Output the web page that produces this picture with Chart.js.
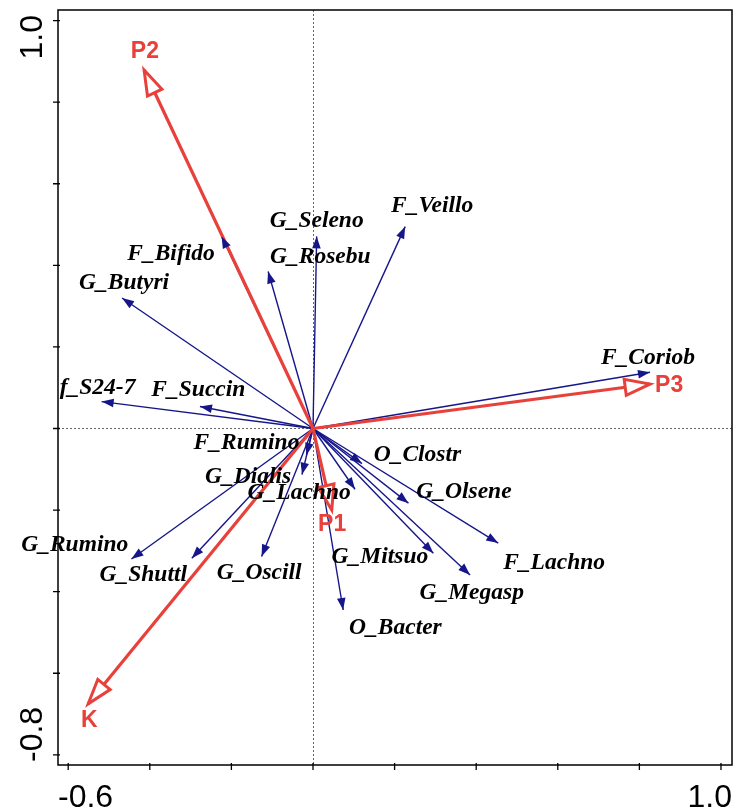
<!DOCTYPE html>
<html>
<head>
<meta charset="utf-8">
<script src="https://cdn.jsdelivr.net/npm/chart.js@4.4.1/dist/chart.umd.min.js"></script>
<style>
  html, body { margin: 0; padding: 0; background: #fff; }
  #wrap { width: 736px; height: 812px; position: relative; }
</style>
</head>
<body>
<div id="wrap"><canvas id="rdaChart"></canvas></div>
<script>
// RDA biplot - species arrows (blue) and environment arrows (red)

// species arrows: tip coordinates
var spNames = ["F_Veillo", "G_Seleno", "G_Rosebu", "F_Bifido", "G_Butyri", "f_S24-7", "F_Succin",
    "F_Coriob", "F_Rumino", "G_Dialis", "G_Rumino", "G_Shuttl", "G_Oscill", "O_Clostr",
    "G_Lachno", "G_Olsene", "G_Mitsuo", "G_Megasp", "F_Lachno", "O_Bacter"];
var spX = [0.226, 0.009, -0.110, -0.224, -0.468, -0.518, -0.277,
    0.826, -0.016, -0.027, -0.445, -0.297, -0.126, 0.120,
    0.103, 0.234, 0.295, 0.385, 0.454, 0.074];
var spY = [0.495, 0.471, 0.385, 0.471, 0.320, 0.066, 0.054,
    0.138, -0.065, -0.113, -0.320, -0.318, -0.314, -0.086,
    -0.149, -0.183, -0.306, -0.359, -0.281, -0.445];
// where the species names sit (label centre, axis units)
var spLabX = [0.292, 0.009, 0.018, -0.348, -0.463, -0.528, -0.281,
    0.821, -0.163, -0.159, -0.584, -0.416, -0.132, 0.256,
    -0.034, 0.370, 0.164, 0.389, 0.591, 0.202];
var spLabY = [0.546, 0.509, 0.421, 0.428, 0.357, 0.100, 0.095,
    0.173, -0.035, -0.119, -0.285, -0.359, -0.354, -0.065,
    -0.158, -0.155, -0.315, -0.403, -0.330, -0.489];

// environmental arrows
var envNames = ["P1", "P2", "P3", "K"];
var envX = [0.046, -0.414, 0.826, -0.551];
var envY = [-0.200, 0.879, 0.109, -0.675];
var envLabX = [0.047, -0.412, 0.873, -0.548];
var envLabY = [-0.236, 0.923, 0.104, -0.716];

// axis ticks
var xTicks = [-0.6, -0.4, -0.2, 0, 0.2, 0.4, 0.6, 0.8, 1.0];
var xTickLabels = ["-0.6", "", "", "", "", "", "", "", "1.0"];
var yTicks = [-0.8, -0.6, -0.4, -0.2, 0, 0.2, 0.4, 0.6, 0.8, 1.0];
var yTickLabels = ["-0.8", "", "", "", "", "", "", "", "", "1.0"];

var blue = "#16168a";
var red = "#e8403a";

var datasets = [];
// red first so they are drawn on top
for (var i = 0; i < envNames.length; i++) {
    datasets.push({
        label: envNames[i],
        data: [{x: 0, y: 0}, {x: envX[i], y: envY[i]}],
        borderColor: red,
        borderWidth: 3.2,
        showLine: true,
        pointRadius: 0
    });
}
for (var i = 0; i < spNames.length; i++) {
    datasets.push({
        label: spNames[i],
        data: [{x: 0, y: 0}, {x: spX[i], y: spY[i]}],
        borderColor: blue,
        borderWidth: 1.4,
        showLine: true,
        pointRadius: 0
    });
}

function drawHead(ctx, x0, y0, x1, y1, len, half, fill, stroke, lw) {
    var a = Math.atan2(y1 - y0, x1 - x0);
    var bx = x1 - Math.cos(a) * len;
    var by = y1 - Math.sin(a) * len;
    var px = -Math.sin(a) * half;
    var py = Math.cos(a) * half;
    ctx.beginPath();
    ctx.moveTo(x1, y1);
    ctx.lineTo(bx + px, by + py);
    ctx.lineTo(bx - px, by - py);
    ctx.closePath();
    ctx.fillStyle = fill;
    ctx.fill();
    if (stroke) {
        ctx.strokeStyle = stroke;
        ctx.lineWidth = lw;
        ctx.lineJoin = "miter";
        ctx.stroke();
    }
}

var biplotPlugin = {
    id: "biplot",
    beforeDatasetsDraw: function (chart) {
        var ctx = chart.ctx, xs = chart.scales.x, ys = chart.scales.y, ca = chart.chartArea;
        ctx.save();
        ctx.strokeStyle = "#666";
        ctx.lineWidth = 1;
        ctx.setLineDash([2, 2]);
        var x0 = Math.round(xs.getPixelForValue(0)) + 0.5;
        var y0 = Math.round(ys.getPixelForValue(0)) + 0.5;
        ctx.beginPath();
        ctx.moveTo(x0, ca.top); ctx.lineTo(x0, ca.bottom);
        ctx.moveTo(ca.left, y0); ctx.lineTo(ca.right, y0);
        ctx.stroke();
        ctx.restore();
    },
    afterDatasetsDraw: function (chart) {
        var ctx = chart.ctx, xs = chart.scales.x, ys = chart.scales.y, ca = chart.chartArea;
        var ox = xs.getPixelForValue(0), oy = ys.getPixelForValue(0);
        ctx.save();

        // blue heads
        for (var i = 0; i < spNames.length; i++) {
            drawHead(ctx, ox, oy, xs.getPixelForValue(spX[i]), ys.getPixelForValue(spY[i]),
                12, 4.3, blue, null, 0);
        }
        // red open heads
        for (var i = 0; i < envNames.length; i++) {
            drawHead(ctx, ox, oy, xs.getPixelForValue(envX[i]), ys.getPixelForValue(envY[i]),
                25, 8, "#fff", red, 3);
        }

        // species names
        ctx.fillStyle = "#000";
        ctx.font = "italic bold 23.5px 'Liberation Serif', 'DejaVu Serif', serif";
        ctx.textAlign = "center";
        ctx.textBaseline = "middle";
        for (var i = 0; i < spNames.length; i++) {
            ctx.fillText(spNames[i], xs.getPixelForValue(spLabX[i]), ys.getPixelForValue(spLabY[i]));
        }
        // env names
        ctx.fillStyle = red;
        ctx.font = "bold 23px 'Liberation Sans', Arial, sans-serif";
        for (var i = 0; i < envNames.length; i++) {
            ctx.fillText(envNames[i], xs.getPixelForValue(envLabX[i]), ys.getPixelForValue(envLabY[i]));
        }

        // box
        ctx.strokeStyle = "#000";
        ctx.lineWidth = 1.5;
        ctx.setLineDash([]);
        ctx.strokeRect(ca.left, ca.top, ca.right - ca.left, ca.bottom - ca.top);

        // ticks
        ctx.lineWidth = 1.3;
        ctx.beginPath();
        for (var i = 0; i < xTicks.length; i++) {
            var tx = xs.getPixelForValue(xTicks[i]);
            ctx.moveTo(tx, ca.bottom - 2); ctx.lineTo(tx, ca.bottom + 5);
        }
        for (var i = 0; i < yTicks.length; i++) {
            var ty = ys.getPixelForValue(yTicks[i]);
            ctx.moveTo(ca.left + 2, ty); ctx.lineTo(ca.left - 5, ty);
        }
        ctx.stroke();

        // tick labels, kept inside the box extent
        ctx.fillStyle = "#000";
        ctx.font = "32px 'Liberation Sans', Arial, sans-serif";
        ctx.textBaseline = "alphabetic";
        for (var i = 0; i < xTicks.length; i++) {
            if (!xTickLabels[i]) continue;
            if (i === 0) { ctx.textAlign = "left"; ctx.fillText(xTickLabels[i], ca.left, 807); }
            else { ctx.textAlign = "right"; ctx.fillText(xTickLabels[i], ca.right, 807); }
        }
        for (var i = 0; i < yTicks.length; i++) {
            if (!yTickLabels[i]) continue;
            ctx.save();
            if (i === 0) { ctx.translate(42, ca.bottom - 3); ctx.textAlign = "left"; }
            else { ctx.translate(42, ca.top + 5); ctx.textAlign = "right"; }
            ctx.rotate(-Math.PI / 2);
            ctx.fillText(yTickLabels[i], 0, 0);
            ctx.restore();
        }
        ctx.restore();
    }
};

var chartObj = new Chart(document.getElementById("rdaChart").getContext("2d"), {
    type: "scatter",
    data: { datasets: datasets },
    options: {
        responsive: true,
        maintainAspectRatio: false,
        animation: false,
        layout: { padding: { left: 58, top: 10, right: 4, bottom: 47 } },
        scales: {
            x: { type: "linear", min: -0.625, max: 1.027, display: false },
            y: { type: "linear", min: -0.825, max: 1.026, display: false }
        },
        plugins: {
            legend: { display: false },
            tooltip: { enabled: false }
        }
    },
    plugins: [biplotPlugin]
});
</script>
</body>
</html>
